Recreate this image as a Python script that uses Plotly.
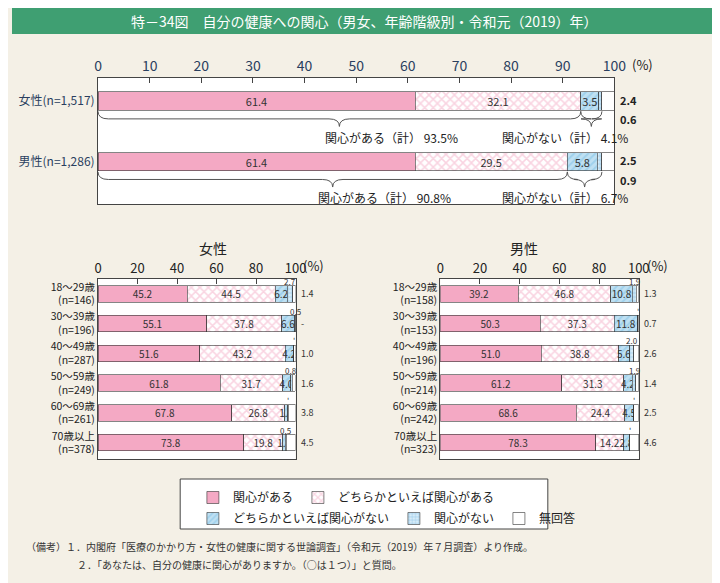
import plotly.graph_objects as go

# data
series = ["関心がある", "どちらかといえば関心がある", "どちらかといえば関心がない", "関心がない", "無回答"]

top_cats = ["女性(n=1,517)", "男性(n=1,286)"]
top_vals = [
    [61.4, 61.4],
    [32.1, 29.5],
    [3.5, 5.8],
    [0.6, 0.9],
    [2.4, 2.5],
]
top_yes = ["93.5%", "90.8%"]
top_no = ["4.1%", "6.7%"]

f_cats = ["18～29歳<br>(n=146)", "30～39歳<br>(n=196)", "40～49歳<br>(n=287)",
          "50～59歳<br>(n=249)", "60～69歳<br>(n=261)", "70歳以上<br>(n=378)"]
f_vals = [
    [45.2, 55.1, 51.6, 61.8, 67.8, 73.8],
    [44.5, 37.8, 43.2, 31.7, 26.8, 19.8],
    [6.2, 6.6, 4.2, 4.0, 1.5, 1.3],
    [2.7, 0.5, 0.0, 0.8, 0.1, 0.5],
    [1.4, 0.0, 1.0, 1.6, 3.8, 4.5],
]
m_cats = ["18～29歳<br>(n=158)", "30～39歳<br>(n=153)", "40～49歳<br>(n=196)",
          "50～59歳<br>(n=214)", "60～69歳<br>(n=242)", "70歳以上<br>(n=323)"]
m_vals = [
    [39.2, 50.3, 51.0, 61.2, 68.6, 78.3],
    [46.8, 37.3, 38.8, 31.3, 24.4, 14.2],
    [10.8, 11.8, 5.6, 4.2, 4.5, 2.8],
    [1.9, 0.0, 2.0, 1.9, 0.0, 0.1],
    [1.3, 0.7, 2.6, 1.4, 2.5, 4.6],
]

colors = ["#f4a9c4", "#ffffff", "#bfe0f2", "#d7ecf8", "#ffffff"]
patterns = [
    dict(shape=""),
    dict(shape="x", fgcolor="#f4a9c4", size=6, solidity=0.45),
    dict(shape="/", fgcolor="#7fc1e6", size=5, solidity=0.4),
    dict(shape="+", fgcolor="#5aa9dc", size=4, solidity=0.3),
    dict(shape=""),
]
FONT = "Noto Sans CJK JP"

fig = go.Figure()


def add_bars(cats, vals, xa, ya, legend, width, fs):
    for i, name in enumerate(series):
        txt = [f"{v:.1f}" if (i < 3 and v >= 1) else "" for v in vals[i]]
        fig.add_trace(go.Bar(
            y=cats, x=vals[i], orientation="h", name=name, xaxis=xa, yaxis=ya,
            marker=dict(color=colors[i], pattern=patterns[i], line=dict(color="#333", width=0.6)),
            text=txt, textposition="inside", insidetextanchor="middle",
            textangle=0, constraintext="none",
            textfont=dict(size=fs, color="#333"), width=width,
            legend="legend" if i < 2 else "legend2",
            showlegend=legend, hoverinfo="skip"))


add_bars(top_cats, top_vals, "x", "y", True, 0.3, 11)
add_bars(f_cats, f_vals, "x2", "y2", False, 0.56, 10)
add_bars(m_cats, m_vals, "x3", "y3", False, 0.56, 10)

ann = []
shapes = []


def brace(x0, x1, y0, y1, xr, yr):
    mid = (x0 + x1) / 2
    ym = (y0 + y1) / 2
    p = (f"M {x0},{y0} Q {x0},{ym} {x0+2},{ym} L {mid-2},{ym} Q {mid},{ym} {mid},{y1} "
         f"Q {mid},{ym} {mid+2},{ym} L {x1-2},{ym} Q {x1},{ym} {x1},{y0}")
    shapes.append(dict(type="path", path=p, xref=xr, yref=yr, line=dict(color="#555", width=1)))


for k, c in enumerate(top_cats):
    yes_end = top_vals[0][k] + top_vals[1][k]
    no_end = yes_end + top_vals[2][k] + top_vals[3][k]
    brace(0, yes_end, k + 0.17, k + 0.42, "x", "y")
    brace(yes_end, no_end, k + 0.17, k + 0.42, "x", "y")
    ann.append(dict(x=yes_end / 2 + 10, y=k + 0.6, xref="x", yref="y", showarrow=False,
                    text=f"関心がある（計） {top_yes[k]}", font=dict(size=12, color="#222")))
    ann.append(dict(x=1.03, y=k + 0.6, xref="x domain", yref="y", showarrow=False,
                    text=f"関心がない（計） {top_no[k]}", font=dict(size=12, color="#222")))
    ann.append(dict(x=1.008, y=k - 0.02, xref="x domain", yref="y", showarrow=False, xanchor="left",
                    text=f"<b>{top_vals[4][k]:.1f}</b>", font=dict(size=11, color="#222")))
    ann.append(dict(x=1.008, y=k + 0.3, xref="x domain", yref="y", showarrow=False, xanchor="left",
                    text=f"<b>{top_vals[3][k]:.1f}</b>", font=dict(size=11, color="#222")))

for cats, vals, xr, yr in [(f_cats, f_vals, "x2", "y2"), (m_cats, m_vals, "x3", "y3")]:
    for k, c in enumerate(cats):
        na = vals[4][k]
        ann.append(dict(x=1.015, y=k, xref=xr + " domain", yref=yr, showarrow=False, xanchor="left",
                        text=f"{na:.1f}" if na > 0 else "-", font=dict(size=9, color="#333")))
        pos = vals[0][k] + vals[1][k] + vals[2][k] + vals[3][k] / 2
        v4 = vals[3][k]
        ann.append(dict(x=pos, y=k - 0.42, xref=xr, yref=yr, showarrow=False,
                        text=f"{v4:.1f}" if v4 >= 0.5 else "'", font=dict(size=8, color="#333")))

# percent unit labels
for xr in ["x", "x2", "x3"]:
    ann.append(dict(x=1.03, y=1.0, xref=xr + " domain", yref=("y" if xr == "x" else "y" + xr[1]) + " domain",
                    yanchor="bottom", showarrow=False, xanchor="left", yshift=2,
                    text="(%)", font=dict(size=13, color="#222")))

ann += [
    dict(x=0.5, y=1 - 13 / 583, xref="paper", yref="paper", showarrow=False, yanchor="middle",
         text="特－34図　自分の健康への関心（男女、年齢階級別・令和元（2019）年）",
         font=dict(size=14, color="white")),
    dict(x=189 / 720, y=1 - 240 / 583, xref="paper", yref="paper", showarrow=False,
         text="女性", font=dict(size=14, color="#222")),
    dict(x=540 / 720, y=1 - 240 / 583, xref="paper", yref="paper", showarrow=False,
         text="男性", font=dict(size=14, color="#222")),
    dict(x=12 / 720, y=1 - 548 / 583, xref="paper", yref="paper", showarrow=False, xanchor="left",
         text="（備考）１．内閣府「医療のかかり方・女性の健康に関する世論調査」（令和元（2019）年７月調査）より作成。",
         font=dict(size=10, color="#333")),
    dict(x=64 / 720, y=1 - 566 / 583, xref="paper", yref="paper", showarrow=False, xanchor="left",
         text="２．「あなたは、自分の健康に関心がありますか。（○は１つ）」と質問。",
         font=dict(size=10, color="#333")),
]

shapes.insert(0, dict(type="rect", xref="paper", yref="paper", x0=0, x1=1, y0=1 - 26 / 583, y1=1,
                      fillcolor="#3f9f72", line=dict(width=0), layer="below"))
shapes.insert(1, dict(type="rect", xref="paper", yref="paper", x0=172 / 720, x1=548 / 720,
                      y0=1 - 521 / 583, y1=1 - 471 / 583, fillcolor="white",
                      line=dict(color="#444", width=1), layer="below"))

axis_common = dict(range=[0, 100], side="top", tickvals=[0, 20, 40, 60, 80, 100],
                   showgrid=False, showline=True, linecolor="#444", mirror=True,
                   ticks="inside", ticklen=5, tickcolor="#444", zeroline=False,
                   tickfont=dict(size=13, color="#222"))
yaxis_common = dict(showgrid=False, showline=True, linecolor="#444", mirror=True,
                    ticks="", tickfont=dict(size=10.5, color="#222"))

fig.update_layout(
    width=720, height=583, barmode="stack",
    paper_bgcolor="#f4f0e6", plot_bgcolor="white",
    margin=dict(l=0, r=0, t=0, b=0),
    font=dict(family=FONT),
    xaxis=dict(axis_common, domain=[88 / 720, 616 / 720], anchor="y", tickfont=dict(size=14),
               tickvals=[0, 10, 20, 30, 40, 50, 60, 70, 80, 90, 100]),
    yaxis=dict(yaxis_common, domain=[1 - 196 / 583, 1 - 70 / 583], range=[1.7, -0.38],
               anchor="x", tickfont=dict(size=12)),
    xaxis2=dict(axis_common, domain=[88 / 720, 290 / 720], anchor="y2"),
    yaxis2=dict(yaxis_common, domain=[1 - 451 / 583, 1 - 271 / 583], range=[5.55, -0.5], anchor="x2"),
    xaxis3=dict(axis_common, domain=[438 / 720, 641 / 720], anchor="y3"),
    yaxis3=dict(yaxis_common, domain=[1 - 451 / 583, 1 - 271 / 583], range=[5.55, -0.5], anchor="x3"),
    legend=dict(orientation="h", x=185 / 720, xanchor="left", y=1 - 475 / 583, yanchor="top",
                bgcolor="rgba(0,0,0,0)", font=dict(size=12, color="#222"), traceorder="normal"),
    legend2=dict(orientation="h", x=185 / 720, xanchor="left", y=1 - 496 / 583, yanchor="top",
                 bgcolor="rgba(0,0,0,0)", font=dict(size=12, color="#222"), traceorder="normal"),
    annotations=ann, shapes=shapes,
)

fig.write_html("out.html")
